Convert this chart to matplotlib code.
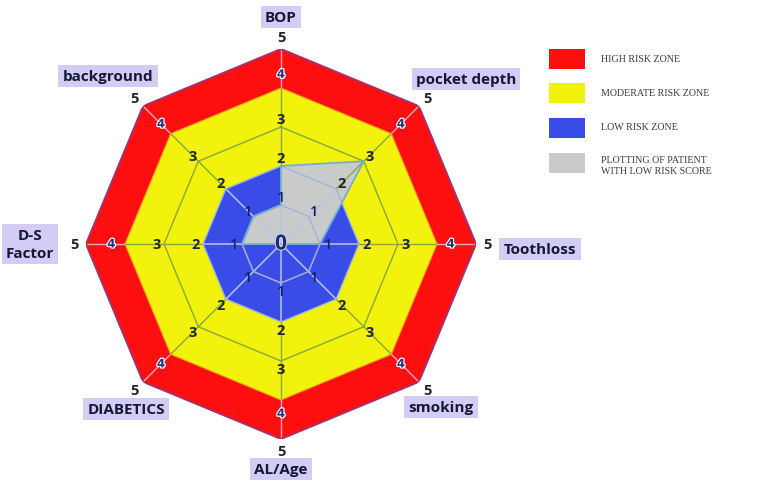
import numpy as np
import matplotlib
matplotlib.use("Agg")
import matplotlib.pyplot as plt
import matplotlib.patheffects as pe
from matplotlib.patches import Rectangle

# ---------------- data ----------------
categories = ["BOP", "pocket depth", "Toothloss", "smoking", "AL/Age",
              "DIABETICS", "D-S\nFactor", "background"]
high_zone = [5, 5, 5, 5, 5, 5, 5, 5]
moderate_zone = [4, 4, 4, 4, 4, 4, 4, 4]
low_zone = [2, 2, 2, 2, 2, 2, 2, 2]
patient = [2, 3, 1, 0, 0, 0, 1, 1]
patient_closing = 1          # value where the patient's outline closes back on BOP
levels = [1, 2, 3, 4, 5]
tick_labels = ["1", "2", "3", "4", "5"]
legend_labels = ["HIGH RISK ZONE", "MODERATE RISK ZONE", "LOW RISK ZONE",
                 "PLOTTING OF PATIENT\nWITH LOW RISK SCORE"]

RED = "#fe0f0f"
YELLOW = "#f2f20c"
BLUE = "#3a4ce8"
GRAY = "#c9cbcb"
legend_colors = [RED, YELLOW, BLUE, GRAY]

W, H = 780, 489
fig = plt.figure(figsize=(W / 100, H / 100), dpi=100)
fig.patch.set_facecolor("white")

cx, cy, R = 281, 245, 195
ax = fig.add_axes([(cx - R) / W, (H - cy - R) / H, 2 * R / W, 2 * R / H],
                  projection="polar")
ax.set_theta_zero_location("N")
ax.set_theta_direction(-1)
ax.set_ylim(0, 5)
ax.set_axis_off()

n = len(categories)
ang = np.arange(n) * 2 * np.pi / n
ang_c = np.append(ang, 2 * np.pi)

def closed(v):
    return np.append(np.asarray(v, float), v[0])

# zones
ax.fill(ang_c, closed(high_zone), color=RED, zorder=1, lw=0)
ax.fill(ang_c, closed(moderate_zone), color=YELLOW, zorder=2, lw=0)
ax.fill(ang_c, closed(low_zone), color=BLUE, zorder=3, lw=0)

# patient polygon
p_th = np.append(ang_c, 2 * np.pi)
p_r = np.concatenate([np.asarray(patient, float), [patient_closing, patient[0]]])
ax.fill(p_th, p_r, color=GRAY, zorder=4, lw=0)

# grid lines
for a in ang:
    ax.plot([a, a], [0, 2], color="#b9c3ea", lw=1.1, zorder=5)
    ax.plot([a, a], [2, 4], color="#86a83a", lw=1.0, zorder=5)
    ax.plot([a, a], [4, 5], color="#f3a7c0", lw=1.0, zorder=5)
ax.plot(ang_c, closed([1] * n), color="#aab2cf", lw=1.1, zorder=5)
ax.plot(ang_c, closed(low_zone), color="#9fb6d8", lw=1.0, zorder=5)
ax.plot(ang_c, closed([3] * n), color="#86a83a", lw=1.0, zorder=5)
ax.plot(ang_c, closed(moderate_zone), color="#e8a020", lw=0.8, zorder=5)
ax.plot(ang_c, closed(high_zone), color="#a8306a", lw=1.4, zorder=5)

# patient outline
ax.plot(p_th, p_r, color="#72aed0", lw=1.3, zorder=6)

# tick labels along each axis
label_r = [1.2, 2.2, 3.2, 4.35, 5.3]
for a in ang:
    for lv, lr, t in zip(levels, label_r, tick_labels):
        if lv == 4:
            ax.text(a, lr, t, ha="center", va="center", fontsize=8.5,
                    color="#2a2a80", fontweight="bold", zorder=8,
                    family="DejaVu Sans",
                    path_effects=[pe.withStroke(linewidth=1.8, foreground="white")])
        elif lv == 1:
            ax.text(a, lr, t, ha="center", va="center", fontsize=10.5,
                    color="#14206a", zorder=8, family="Open Sans",
                    fontweight="semibold")
        else:
            ax.text(a, lr, t, ha="center", va="center", fontsize=10.5,
                    color="#1f2826", zorder=8, family="Open Sans",
                    fontweight="bold", clip_on=False)
ax.text(0, 0, "0", ha="center", va="center", fontsize=15, color="#1a2a6a",
        fontweight="bold", zorder=9, family="Open Sans",
        path_effects=[pe.withStroke(linewidth=1.5, foreground="#d0d8f0")])

# category labels
cat_pos = [(281, 18), (466, 80), (540, 250), (441, 408), (281, 470),
           (126, 410), (30, 245), (108, 77)]
for lab, (x, y) in zip(categories, cat_pos):
    fig.text(x / W, 1 - y / H, lab, ha="center", va="center", fontsize=11,
             fontweight="bold", color="#141830", family="Open Sans",
             linespacing=1.3,
             bbox=dict(boxstyle="square,pad=0.28", facecolor="#d2ccf6",
                       edgecolor="none"))

# legend
sw_y = [60, 94, 129, 164]
txt_y = [60, 94, 128, 166]
for c, lab, yy, ty in zip(legend_colors, legend_labels, sw_y, txt_y):
    fig.add_artist(Rectangle(((549) / W, 1 - (yy + 10) / H), 36 / W, 20 / H,
                             transform=fig.transFigure, facecolor=c,
                             edgecolor="none"))
    fig.text(601 / W, 1 - ty / H, lab, ha="left", va="center", fontsize=7.2,
             color="#3a3a3a", family="Liberation Serif", linespacing=1.2)

fig.savefig("out.png", dpi=100, facecolor="white")
